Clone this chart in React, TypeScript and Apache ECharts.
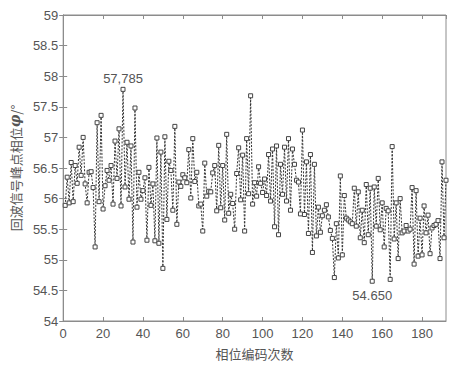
import React, { useEffect, useRef } from "react";
import * as echarts from "echarts";

const phaseValues: number[] = [
  55.89, 56.35, 55.93, 56.59, 55.95, 56.54, 56.25, 56.84, 56.38, 57.0,
  56.24, 55.93, 56.43, 56.44, 56.18, 55.21, 57.24, 55.95, 57.36, 55.83,
  56.21, 56.46, 56.3, 56.54, 55.91, 56.94, 56.33, 57.14, 55.88, 57.785,
  56.19, 56.92, 55.99, 56.86, 55.29, 57.48, 55.86, 56.43, 55.99, 56.13,
  56.34, 55.32, 56.51, 55.89, 56.24, 55.31, 56.99, 55.27, 56.76, 54.86,
  57.01, 55.66, 56.61, 56.46, 55.81, 57.18, 55.58, 56.27, 56.2, 56.39,
  56.34, 56.26, 56.8, 56.01, 56.98, 56.28, 56.43, 55.88, 55.91, 55.47,
  56.58, 56.04, 56.12, 56.11, 56.42, 56.54, 55.8, 56.87, 55.85, 56.54,
  55.65, 57.05, 55.76, 56.07, 55.92, 55.5, 56.41, 56.83, 55.98, 56.71,
  55.47, 56.98, 56.08, 57.68, 55.91, 56.26, 56.04, 56.52, 56.25, 56.1,
  56.32, 56.05, 56.72, 55.96, 56.81, 55.54, 56.86, 55.41, 56.56, 56.07,
  56.84, 55.96, 56.98, 55.81, 56.81, 56.56, 56.3, 56.27, 55.75, 57.12,
  55.74, 56.6, 55.43, 56.72, 55.12, 56.56, 55.39, 55.86, 55.45, 55.72,
  55.81, 55.9, 55.7, 55.48, 55.35, 54.71, 55.59, 55.03, 56.37, 55.08,
  56.05, 55.68, 55.65, 55.62, 55.59, 56.17, 55.55, 56.11, 55.36, 55.81,
  55.28, 56.23, 55.41, 56.17, 54.65, 56.19, 55.55, 56.33, 55.49, 55.93,
  55.21, 55.84, 55.8, 54.68, 56.85, 55.34, 55.93, 55.02, 56.0, 55.44,
  55.47, 55.56, 55.47, 55.5, 56.18, 54.93, 56.13, 55.06, 55.68, 55.08,
  55.88, 55.44, 55.73, 55.1, 55.52, 55.56, 55.58, 55.64, 55.02, 56.6,
  55.36, 56.3,
];

const maxLabel = "57,785";
const minLabel = "54.650";
const xAxisName = "相位编码次数";
const yAxisNameMain = "回波信号峰点相位";

export default function App() {
  const ref = useRef<HTMLDivElement>(null);
  useEffect(() => {
    if (!ref.current) return;
    const chart = echarts.init(ref.current, undefined, { renderer: "svg" });
    const data = phaseValues.map((v, i) => [i + 1, v]);
    let maxIdx = 0;
    let minIdx = 0;
    phaseValues.forEach((v, i) => {
      if (v > phaseValues[maxIdx]) maxIdx = i;
      if (v < phaseValues[minIdx]) minIdx = i;
    });
    const axisColor = "#8c8c8c";
    const labelColor = "#555555";
    const font = "'Liberation Sans', Arial, sans-serif";
    chart.setOption({
      animation: false,
      backgroundColor: "#ffffff",
      grid: {
        left: 56,
        right: 10,
        top: 15,
        bottom: 43,
        show: true,
        borderColor: axisColor,
        borderWidth: 1,
      },
      xAxis: [
        {
          type: "value",
          min: 0,
          max: 192,
          interval: 20,
          name: xAxisName,
          nameLocation: "middle",
          nameGap: 26,
          nameTextStyle: {
            color: labelColor,
            fontSize: 13,
            fontFamily: "'Noto Sans CJK SC', sans-serif",
          },
          axisLine: { show: true, lineStyle: { color: axisColor } },
          axisTick: { show: true, inside: true, length: 4, lineStyle: { color: axisColor } },
          axisLabel: {
            color: labelColor,
            fontSize: 13,
            fontFamily: font,
            margin: 6,
            showMaxLabel: false,
          },
          splitLine: { show: false },
        },
        {
          type: "value",
          position: "top",
          min: 0,
          max: 192,
          interval: 20,
          axisLine: { show: true, lineStyle: { color: axisColor } },
          axisTick: { show: true, inside: true, length: 4, lineStyle: { color: axisColor } },
          axisLabel: { show: false },
          splitLine: { show: false },
        },
      ],
      yAxis: [
        {
          type: "value",
          min: 54,
          max: 59,
          interval: 0.5,
          name: "{a|" + yAxisNameMain + "}{b|φ}{a|/°}",
          nameLocation: "middle",
          nameGap: 38,
          nameRotate: 90,
          nameTextStyle: {
            rich: {
              a: {
                color: labelColor,
                fontSize: 13,
                fontFamily: "'Noto Sans CJK SC', sans-serif",
              },
              b: {
                color: labelColor,
                fontSize: 14,
                fontStyle: "italic",
                fontWeight: "bold",
                fontFamily: "'DejaVu Serif', serif",
              },
            },
          },
          axisLine: { show: true, lineStyle: { color: axisColor } },
          axisTick: { show: true, inside: true, length: 4, lineStyle: { color: axisColor } },
          axisLabel: { color: labelColor, fontSize: 13, fontFamily: font, margin: 5 },
          splitLine: { show: false },
        },
        {
          type: "value",
          position: "right",
          min: 54,
          max: 59,
          interval: 0.5,
          axisLine: { show: true, lineStyle: { color: axisColor } },
          axisTick: { show: true, inside: true, length: 4, lineStyle: { color: axisColor } },
          axisLabel: { show: false },
          splitLine: { show: false },
        },
      ],
      series: [
        {
          type: "line",
          data,
          xAxisIndex: 0,
          yAxisIndex: 0,
          symbol: "rect",
          symbolSize: 4,
          showAllSymbol: true,
          itemStyle: { color: "#ffffff", borderColor: "#444444", borderWidth: 1 },
          lineStyle: { color: "#333333", width: 1, type: [2, 1.5] },
          markPoint: {
            symbol: "circle",
            symbolSize: 0,
            silent: true,
            data: [
              {
                coord: data[maxIdx],
                label: {
                  show: true,
                  formatter: maxLabel,
                  position: "top",
                  distance: 4,
                  color: labelColor,
                  fontSize: 13,
                  fontFamily: font,
                },
              },
              {
                coord: data[minIdx],
                label: {
                  show: true,
                  formatter: minLabel,
                  position: "bottom",
                  distance: 8,
                  color: labelColor,
                  fontSize: 13,
                  fontFamily: font,
                },
              },
            ],
          },
        },
      ],
    });
    return () => chart.dispose();
  }, []);
  return (
    <div
      ref={ref}
      style={{ position: "absolute", left: 0, top: 0, width: 456, height: 365 }}
    />
  );
}
